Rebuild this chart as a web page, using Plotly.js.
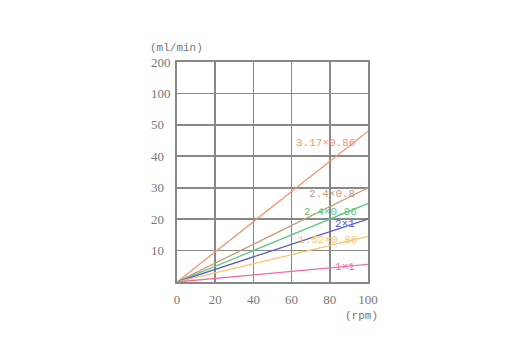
<!DOCTYPE html>
<html>
<head>
<meta charset="utf-8">
<script src="https://cdn.plot.ly/plotly-3.0.1.min.js"></script>
<style>html,body{margin:0;padding:0;background:#fff;}#chart{width:527px;height:351px;}</style>
</head>
<body>
<div id="chart"></div>
<script>
// Data
var seriesNames = ['3.17×0.86', '2.4×0.8', '2.4×0.86', '2×1', '1.52×0.86', '1×1'];
var rpm = [0, 100];
var flow317x086 = [0, 48];
var flow24x08 = [0, 30];
var flow24x086 = [0, 25];
var flow2x1 = [0, 20];
var flow152x086 = [0, 14.5];
var flow1x1 = [0, 5.6];
var seriesColors = ['#f7936c', '#c49c7c', '#5fc983', '#5a5ac6', '#f9c66c', '#f06aa8'];
// y tick labels: the axis is linear up to 50, then 100 and 200 on equal steps
var yTickVals = [10, 20, 30, 40, 50, 60, 70];
var yTickText = ['10', '20', '30', '40', '50', '100', '200'];
var xTickVals = [0, 20, 40, 60, 80, 100];
var xTickText = ['0', '20', '40', '60', '80', '100'];
// label placement (styling)
var labelX = [94.4, 94.4, 95.3, 94.4, 95.3, 94.4];
var labelY = [44.2, 28.0, 22.2, 18.4, 13.5, 4.8];

var L = 177, R = 159, T = 62, B = 69, W = 527, H = 351;
var PW = W - L - R, PH = H - T - B;
var numFont = {family: 'Liberation Serif, serif', size: 13, color: '#777'};
var txtFont = {family: 'Liberation Mono, monospace', size: 11, color: '#777'};

var seriesValues = [flow317x086, flow24x08, flow24x086, flow2x1, flow152x086, flow1x1];
var traces = seriesValues.map(function (v, i) {
  return {
    x: rpm, y: v, type: 'scatter', mode: 'lines', name: seriesNames[i],
    line: {color: seriesColors[i], width: 1.3}, hoverinfo: 'skip'
  };
});
var annotations = seriesNames.map(function (n, i) {
  return {
    x: labelX[i], y: labelY[i], xref: 'x', yref: 'y', text: n, showarrow: false,
    xanchor: 'right', yanchor: 'middle',
    font: {family: 'Liberation Mono, monospace', size: 11, color: seriesColors[i]}
  };
});
// y tick labels, left-aligned as in the reference
yTickVals.forEach(function (v, i) {
  annotations.push({
    x: (149 - L) / PW, y: v, xref: 'paper', yref: 'y', text: yTickText[i], showarrow: false,
    xanchor: 'left', yanchor: 'middle', font: numFont
  });
});
annotations.push({
  x: (148 - L) / PW, y: (H - 48 - B) / PH, xref: 'paper', yref: 'paper', text: '(ml/min)', showarrow: false,
  xanchor: 'left', yanchor: 'middle', font: txtFont
});
annotations.push({
  x: (343 - L) / PW, y: (H - 316 - B) / PH, xref: 'paper', yref: 'paper', text: '(rpm)', showarrow: false,
  xanchor: 'left', yanchor: 'middle', font: txtFont
});

var layout = {
  width: W, height: H,
  margin: {l: L, r: R, t: T, b: B, pad: 0},
  paper_bgcolor: '#fff', plot_bgcolor: '#fff',
  showlegend: false,
  xaxis: {
    range: [0, 100], tickvals: xTickVals, ticktext: xTickText,
    showgrid: true, gridcolor: '#888', gridwidth: 1.6,
    showline: true, linecolor: '#888', linewidth: 1.6, mirror: true,
    zeroline: false, ticks: '', ticklen: 0, ticklabelstandoff: 5,
    tickfont: numFont, fixedrange: true
  },
  yaxis: {
    range: [0, 70], tickvals: yTickVals, ticktext: yTickText, showticklabels: false,
    showgrid: true, gridcolor: '#888', gridwidth: 1.6,
    showline: true, linecolor: '#888', linewidth: 1.6, mirror: true,
    zeroline: false, ticks: '', ticklen: 0, fixedrange: true
  },
  annotations: annotations
};
Plotly.newPlot('chart', traces, layout, {displayModeBar: false, staticPlot: true});
</script>
</body>
</html>
